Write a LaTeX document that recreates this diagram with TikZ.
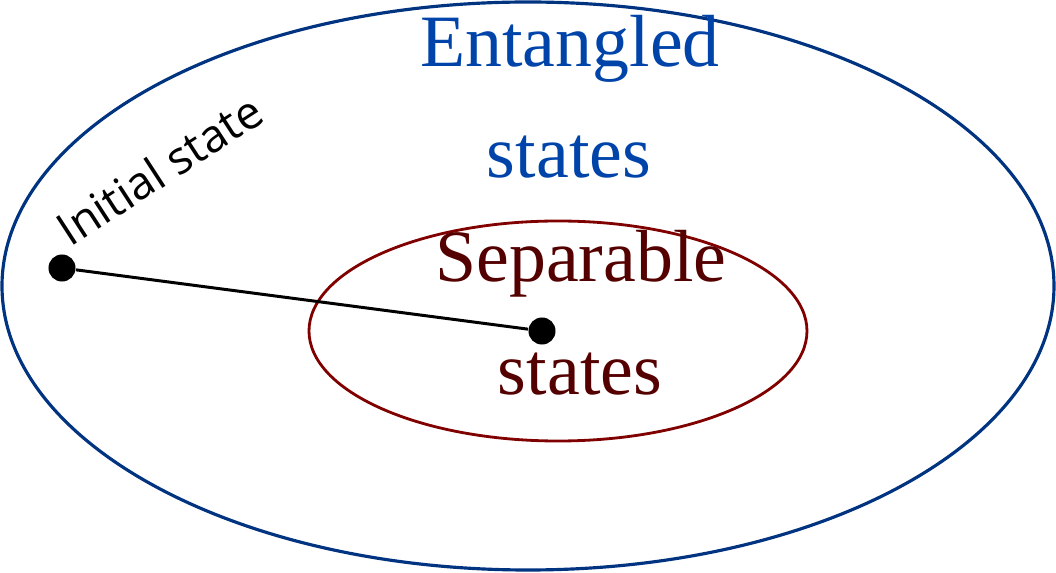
\documentclass[tikz,border=0pt]{standalone}
\usepackage{fontspec}
\usepackage{xcolor}
\usepackage{tikz}
\usetikzlibrary{calc,positioning}
\setmainfont{Liberation Serif}
\newfontfamily\labelfont{Open Sans}
\definecolor{entBlue}{RGB}{0,51,128}
\definecolor{entBlueText}{RGB}{0,68,170}
\definecolor{sepRed}{RGB}{128,0,0}
\definecolor{sepRedDark}{RGB}{85,0,0}
\tikzset{
  dot/.style={circle, fill=black, inner sep=0pt, minimum size=0.27cm},
  bigText/.style={font=\fontsize{21}{25}\selectfont, inner sep=0pt, anchor=base}
}

\begin{document}
\begin{tikzpicture}[x=0.01cm,y=-0.01cm]
\useasboundingbox (0,0) rectangle (1056,573);

\draw[entBlue, line width=0.9pt] (528,286) ellipse [x radius=526, y radius=284];
\draw[sepRed, line width=0.8pt] (558,331) ellipse [x radius=249, y radius=110];

\node[bigText, text=entBlueText] (entA) at (570,67) {Entangled};
\node[bigText, text=entBlueText] (entB) at (569,178) {states};
\node[bigText, text=sepRedDark] (sepA) at (581,282) {Separable};
\node[bigText, text=sepRedDark] (sepB) at (580,395) {states};

\node[dot] (init) at (62,268) {};
\node[dot] (target) at (542,331) {};
\draw[black, line width=0.85pt] (init) -- (target);

\node[rotate=33, anchor=base west, inner sep=0pt, font=\labelfont\fontsize{13}{15}\selectfont] (initLbl) at (70,248) {Initial state};
\end{tikzpicture}
\end{document}
